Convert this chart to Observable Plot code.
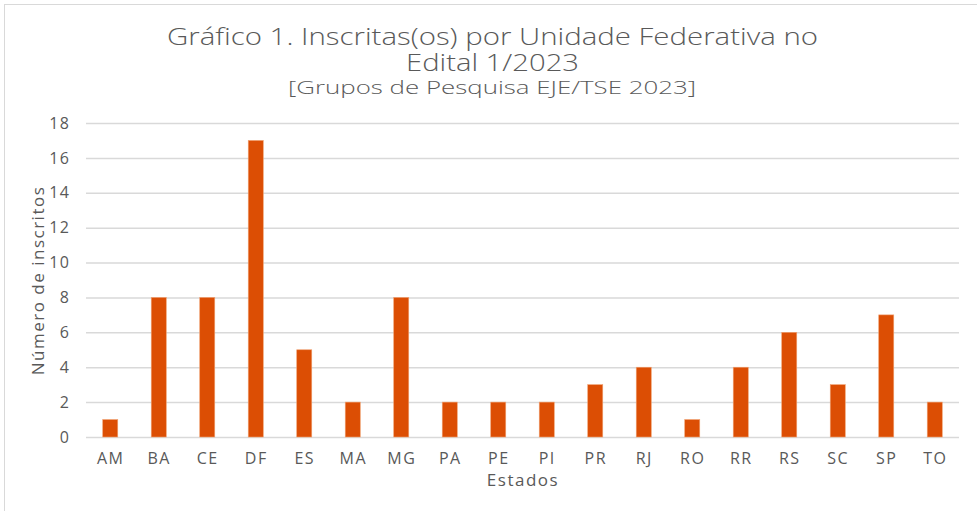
<!DOCTYPE html>
<html><head><meta charset="utf-8">
<script src="https://cdn.jsdelivr.net/npm/d3@7"></script>
<script src="https://cdn.jsdelivr.net/npm/@observablehq/plot@0.6"></script>
<style>
body{margin:0;background:#fff;}
#wrap{position:relative;width:977px;height:511px;overflow:hidden;font-family:"Open Sans",sans-serif;color:#595959;}
#frame{position:absolute;left:4px;top:4px;width:990px;height:520px;border:1.5px solid #d9d9d9;box-sizing:border-box;}
.t{position:absolute;left:492px;font-weight:300;white-space:nowrap;line-height:1;transform-origin:0 0;}
#chart{position:absolute;left:0;top:0;}
#chart svg text{letter-spacing:1.5px;}
</style></head>
<body>
<div id="wrap">
<div id="frame"></div>
<div class="t" id="t1" data-w="651" style="top:25px;font-size:23px;">Gráfico 1. Inscritas(os) por Unidade Federativa no</div>
<div class="t" id="t2" data-w="173" style="top:51px;font-size:23px;">Edital 1/2023</div>
<div class="t" id="t3" data-w="408" style="top:78px;font-size:18.5px;">[Grupos de Pesquisa EJE/TSE 2023]</div>
<div id="chart"></div>
</div>
<script>
const estados = ["AM","BA","CE","DF","ES","MA","MG","PA","PE","PI","PR","RJ","RO","RR","RS","SC","SP","TO"];
const inscritos = [1,8,8,17,5,2,8,2,2,2,3,4,1,4,6,3,7,2];
const yTicks = [0,2,4,6,8,10,12,14,16,18];

const data = estados.map((e,i)=>({estado:e, valor:inscritos[i]}));

const chart = Plot.plot({
  width: 977, height: 511,
  marginTop: 123, marginBottom: 74, marginLeft: 86, marginRight: 18,
  style: {fontFamily: "'Open Sans', sans-serif", fontSize: "16px", color: "#595959", background: "transparent"},
  x: {domain: estados, paddingInner: 0.69, paddingOuter: 0.345, align: 0.5, round: false, label: null},
  y: {domain: [0,18], label: null},
  marks: [
    Plot.gridY(yTicks, {stroke: "#d9d9d9", strokeOpacity: 1, strokeWidth: 1.5}),
    Plot.barY(data, {x: "estado", y: "valor", fill: "#dc4e04", stroke: "#f0a070", strokeWidth: 0.6}),
    Plot.axisY({ticks: yTicks, tickSize: 0, tickPadding: 16, label: null, fill: "#595959"}),
    Plot.axisX({tickSize: 0, tickPadding: 15, label: null, fill: "#595959"}),
    Plot.text(["Estados"], {frameAnchor: "bottom", dy: 48, fontSize: 17, fill: "#595959"}),
    Plot.text(["Número de inscritos"], {frameAnchor: "left", textAnchor: "middle", dx: -48, rotate: -90, fontSize: 17, fill: "#595959"})
  ]
});
document.getElementById("chart").appendChild(chart);

// stretch the title lines horizontally to the reference's (wide font) extents, centred at x=492
for (const el of document.querySelectorAll(".t")) {
  const w = el.getBoundingClientRect().width;
  const target = +el.dataset.w;
  const s = target / w;
  el.style.left = (492 - target / 2) + "px";
  el.style.transform = `scaleX(${s})`;
}
</script>
</body></html>
